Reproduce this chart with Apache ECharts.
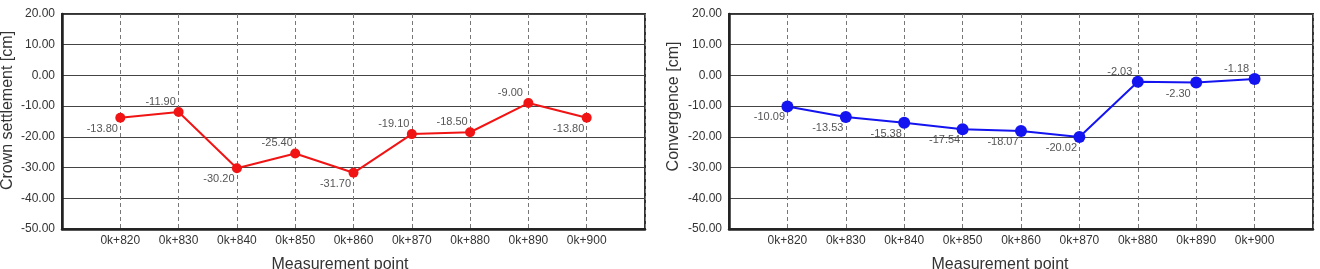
<!DOCTYPE html>
<html>
<head>
<meta charset="utf-8">
<script src="https://cdn.jsdelivr.net/npm/echarts@6/dist/echarts.min.js"></script>
<style>
  html, body { margin: 0; padding: 0; background: #fff; }
  #chart { width: 1320px; height: 269px; }
</style>
</head>
<body>
<div id="chart"></div>
<script>
// measurement points (chainage)
var stations = ['0k+820', '0k+830', '0k+840', '0k+850', '0k+860', '0k+870', '0k+880', '0k+890', '0k+900'];

// crown settlement [cm]
var settlement = [-13.80, -11.90, -30.20, -25.40, -31.70, -19.10, -18.50, -9.00, -13.80];
// convergence [cm]
var convergence = [-10.09, -13.53, -15.38, -17.54, -18.07, -20.02, -2.03, -2.30, -1.18];

// y ticks
var yMin = -50, yMax = 20, yStep = 10;

// which labels sit under their point
var settlementBelow = [true, false, true, false, true, false, false, false, true];
var convergenceBelow = [true, true, true, true, true, true, false, true, false];

var FONT = '"Liberation Sans", Arial, sans-serif';

/**
 * Build [x, y] points, x = slot index (stations sit on slots 1..9 of 0..10).
 * @param {number[]} values
 * @param {boolean[]} below
 * @returns {object[]}
 */
function toPoints(values, below) {
    return values.map(function (v, i) {
        return {
            value: [i + 1, v],
            label: { offset: [-18, below[i] ? 11 : -10] }
        };
    });
}

function xAxisFor(gridIndex, shift) {
    return {
        type: 'value',
        gridIndex: gridIndex,
        min: 0,
        max: stations.length + 1,
        interval: 1,
        name: 'Measurement point',
        nameLocation: 'middle',
        nameGap: 28,
        nameTextStyle: { fontFamily: FONT, fontSize: 16, color: '#333', padding: [0, shift, 0, 0] },
        axisLine: { show: true, onZero: false, lineStyle: { color: '#222', width: 2.5 } },
        axisTick: { show: false },
        axisLabel: {
            fontFamily: FONT, fontSize: 12, color: '#333', margin: 6,
            formatter: function (v) { return stations[v - 1] || ''; }
        },
        splitLine: { show: true, lineStyle: { color: '#777', width: 1, type: [4, 3] } }
    };
}

function yAxisFor(gridIndex, title, gap, shift) {
    return {
        type: 'value',
        gridIndex: gridIndex,
        min: yMin,
        max: yMax,
        interval: yStep,
        name: title,
        nameLocation: 'middle',
        nameGap: gap,
        nameTextStyle: { fontFamily: FONT, fontSize: 16, color: '#333', padding: [0, 0, 0, shift] },
        axisLine: { show: true, lineStyle: { color: '#222', width: 2.5 } },
        axisTick: { show: false },
        axisLabel: {
            fontFamily: FONT, fontSize: 12, color: '#333', margin: 7,
            formatter: function (v) { return v.toFixed(2); }
        },
        splitLine: { show: true, lineStyle: { color: '#444', width: 1 } }
    };
}

function lineSeries(idx, data, color, size) {
    return {
        type: 'line',
        xAxisIndex: idx,
        yAxisIndex: idx,
        data: data,
        symbol: 'circle',
        symbolSize: size,
        lineStyle: { color: color, width: 2 },
        itemStyle: { color: color },
        label: {
            show: true,
            position: 'inside',
            fontFamily: FONT,
            fontSize: 11,
            color: '#555',
            formatter: function (p) { return p.value[1].toFixed(2); }
        },
        animation: false
    };
}

var options = {
    animation: false,
    grid: [
        { left: 62, top: 14, width: 583, height: 215, outerBoundsMode: 'none', show: true, borderColor: '#333', borderWidth: 2 },
        { left: 729, top: 14, width: 584, height: 215, outerBoundsMode: 'none', show: true, borderColor: '#333', borderWidth: 2 }
    ],
    xAxis: [xAxisFor(0, 27), xAxisFor(1, 42)],
    yAxis: [
        yAxisFor(0, 'Crown settlement [cm]', 46, 22),
        yAxisFor(1, 'Convergence [cm]', 47, 30)
    ],
    series: [
        lineSeries(0, toPoints(settlement, settlementBelow), '#f01414', 10),
        lineSeries(1, toPoints(convergence, convergenceBelow), '#1414f0', 12)
    ]
};

var chart = echarts.init(document.getElementById('chart'));
chart.setOption(options);
</script>
</body>
</html>
